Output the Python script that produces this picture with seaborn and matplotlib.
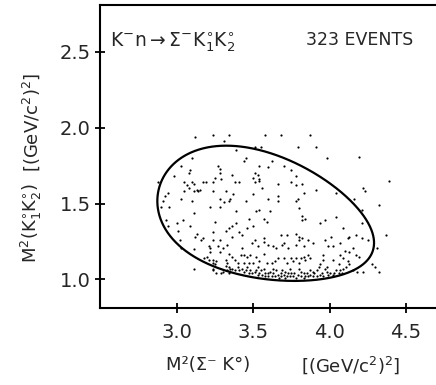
import numpy as np
import pandas as pd
import matplotlib
matplotlib.use("Agg")
import matplotlib.pyplot as plt
import seaborn as sns

# Masses (GeV/c^2) and K-n centre-of-mass energy (GeV) for the boundary curve
M_K0 = 0.4976
M_SIGMA = 1.1974
SQRT_S = 2.569

# Events: (M^2(Sigma- K0), M^2(K1 K2)) in (GeV/c^2)^2
events = [
    (3.12, 1.94), (3.24, 1.95), (3.31, 1.91), (3.34, 1.95), (3.10, 1.80), (3.03, 1.75),
    (3.09, 1.72), (3.08, 1.70), (3.27, 1.75), (3.28, 1.73), (3.28, 1.70), (2.98, 1.68),
    (3.25, 1.67), (3.29, 1.66), (3.24, 1.64), (3.05, 1.64), (3.10, 1.64), (3.17, 1.64),
    (3.19, 1.64), (3.07, 1.62), (3.11, 1.63), (3.08, 1.60), (3.13, 1.59), (3.15, 1.59),
    (3.14, 1.58), (3.11, 1.58), (3.05, 1.58), (3.24, 1.58), (2.88, 1.64), (2.94, 1.57),
    (2.92, 1.55), (3.10, 1.52), (3.03, 1.53), (2.91, 1.52), (3.28, 1.53), (3.31, 1.51),
    (3.22, 1.48), (2.95, 1.48), (2.90, 1.48),
    (3.58, 1.95), (3.68, 1.95), (3.55, 1.87), (3.51, 1.87), (3.39, 1.85), (3.79, 1.87),
    (3.45, 1.80), (3.44, 1.78), (3.54, 1.75), (3.62, 1.78), (3.60, 1.74), (3.70, 1.75),
    (3.75, 1.72), (3.51, 1.70), (3.53, 1.69), (3.36, 1.69), (3.50, 1.67), (3.54, 1.66),
    (3.38, 1.64), (3.41, 1.64), (3.54, 1.65), (3.51, 1.64), (3.66, 1.63), (3.75, 1.64),
    (3.78, 1.68), (3.78, 1.62), (3.82, 1.63), (3.56, 1.60), (3.32, 1.58), (3.37, 1.56),
    (3.50, 1.56), (3.60, 1.53), (3.66, 1.55), (3.66, 1.52), (3.35, 1.53), (3.34, 1.52),
    (3.45, 1.52), (3.79, 1.53), (3.78, 1.52), (3.83, 1.57), (3.54, 1.46),
    (3.87, 1.95), (3.91, 1.87), (3.98, 1.80), (4.19, 1.81), (3.91, 1.59), (4.04, 1.57),
    (4.22, 1.60), (4.23, 1.58), (4.39, 1.65), (4.16, 1.53), (4.32, 1.49), (4.21, 1.46),
    (3.28, 1.48), (3.11, 1.44), (3.25, 1.38), (2.93, 1.39), (3.04, 1.39), (3.09, 1.35),
    (3.00, 1.37), (2.94, 1.35), (3.34, 1.34), (3.32, 1.32), (3.01, 1.32), (3.13, 1.30),
    (3.24, 1.31), (3.12, 1.28), (3.17, 1.27), (3.16, 1.26), (3.24, 1.26), (3.28, 1.26),
    (3.02, 1.26), (3.21, 1.22), (3.22, 1.21), (3.27, 1.22), (3.30, 1.21), (3.33, 1.23),
    (3.03, 1.21), (3.11, 1.20), (3.22, 1.18), (3.28, 1.18), (3.34, 1.17), (3.20, 1.15),
    (3.18, 1.14), (3.24, 1.13), (3.26, 1.12), (3.21, 1.13), (3.32, 1.13), (3.33, 1.11),
    (3.25, 1.10), (3.24, 1.11), (3.24, 1.07), (3.24, 1.06), (3.26, 1.04), (3.29, 1.04),
    (3.30, 1.05), (3.33, 1.06), (3.35, 1.07), (3.11, 1.07), (3.34, 1.04), (3.32, 1.09),
    (3.39, 1.45), (3.52, 1.45), (3.61, 1.45), (3.80, 1.47), (3.82, 1.39), (3.47, 1.40),
    (3.57, 1.40), (3.39, 1.37), (3.59, 1.38), (3.50, 1.35), (3.46, 1.34), (3.36, 1.35),
    (3.41, 1.31), (3.43, 1.29), (3.36, 1.28), (3.68, 1.29), (3.72, 1.29), (3.78, 1.30),
    (3.80, 1.28), (3.51, 1.26), (3.57, 1.27), (3.49, 1.24), (3.57, 1.25), (3.60, 1.23),
    (3.53, 1.22), (3.63, 1.22), (3.65, 1.21), (3.70, 1.24), (3.69, 1.23), (3.73, 1.21),
    (3.78, 1.23), (3.80, 1.26), (3.83, 1.22), (3.43, 1.21), (3.36, 1.15), (3.42, 1.16),
    (3.44, 1.16), (3.46, 1.15), (3.48, 1.16), (3.52, 1.15), (3.57, 1.17), (3.66, 1.14),
    (3.70, 1.14), (3.75, 1.14), (3.78, 1.14), (3.81, 1.14), (3.83, 1.15), (3.38, 1.13),
    (3.40, 1.11), (3.44, 1.11), (3.47, 1.11), (3.50, 1.11), (3.54, 1.12), (3.59, 1.11),
    (3.62, 1.11), (3.64, 1.12), (3.72, 1.11), (3.76, 1.12), (3.80, 1.11),
    (3.82, 1.42), (3.84, 1.40), (3.97, 1.39), (4.04, 1.41), (3.94, 1.37), (4.09, 1.34),
    (4.21, 1.37), (4.37, 1.29), (3.82, 1.27), (3.86, 1.26), (3.89, 1.24), (3.97, 1.26),
    (4.01, 1.28), (4.02, 1.22), (3.99, 1.22), (4.07, 1.24), (4.12, 1.27), (4.13, 1.28),
    (4.17, 1.29), (4.21, 1.27), (4.25, 1.26), (4.31, 1.21), (4.10, 1.19), (4.13, 1.18),
    (4.15, 1.21), (4.17, 1.16), (4.19, 1.15), (4.07, 1.16), (4.09, 1.14), (3.96, 1.16),
    (3.86, 1.16), (3.84, 1.13), (3.87, 1.14), (3.96, 1.13), (4.02, 1.13), (4.12, 1.12),
    (4.13, 1.10), (4.11, 1.08), (4.06, 1.10), (4.09, 1.07), (4.15, 1.06), (4.28, 1.10),
    (4.30, 1.08), (4.32, 1.05), (4.22, 1.05), (4.18, 1.05), (3.94, 1.10), (3.98, 1.08),
    (3.34, 1.08), (3.36, 1.07), (3.38, 1.06), (3.40, 1.08), (3.41, 1.06), (3.43, 1.07),
    (3.44, 1.05), (3.45, 1.06), (3.47, 1.04), (3.48, 1.06), (3.49, 1.04), (3.51, 1.05),
    (3.52, 1.06), (3.53, 1.03), (3.54, 1.04), (3.55, 1.06), (3.56, 1.03), (3.58, 1.04),
    (3.58, 1.02), (3.60, 1.04), (3.61, 1.05), (3.62, 1.02), (3.63, 1.04), (3.64, 1.02),
    (3.65, 1.06), (3.66, 1.03), (3.68, 1.04), (3.68, 1.02), (3.70, 1.03), (3.71, 1.05),
    (3.72, 1.02), (3.73, 1.04), (3.74, 1.02), (3.75, 1.04), (3.76, 1.02), (3.77, 1.04),
    (3.78, 1.01), (3.79, 1.03), (3.81, 1.05), (3.81, 1.02), (3.83, 1.04), (3.84, 1.02),
    (3.85, 1.04), (3.86, 1.02), (3.87, 1.03), (3.89, 1.05), (3.89, 1.02), (3.90, 1.04),
    (3.92, 1.02), (3.92, 1.06), (3.94, 1.03), (3.95, 1.04), (3.96, 1.02), (3.98, 1.05),
    (3.99, 1.03), (4.00, 1.04), (4.02, 1.03), (4.03, 1.04), (4.04, 1.06), (4.06, 1.04),
    (4.07, 1.06), (4.08, 1.04),
    (3.46, 1.08), (3.53, 1.08), (3.57, 1.07), (3.63, 1.07), (3.69, 1.06), (3.74, 1.07),
    (3.80, 1.07), (3.87, 1.06), (3.93, 1.08), (3.67, 1.01), (3.71, 1.01), (3.83, 1.01),
    (3.60, 1.02), (3.97, 1.07),
]

x_ticks = [3.0, 3.5, 4.0, 4.5]
y_ticks = [1.0, 1.5, 2.0, 2.5]
x_tick_labels = ["3.0", "3.5", "4.0", "4.5"]
y_tick_labels = ["1.0", "1.5", "2.0", "2.5"]

reaction_label = r"K$^{-}$n$\rightarrow$Σ$^{-}$K$^{\circ}_{1}$K$^{\circ}_{2}$"
count_label = "323 EVENTS"
x_label_main = "M²(Σ⁻ K°)"
y_label_main = r"M$^{2}$(K$^{\circ}_{1}$K$^{\circ}_{2}$)"
unit_label = r"[(GeV/c$^{2}$)$^{2}$]"


def dalitz_boundary(n=500):
    """Kinematic limit of the Sigma- K0 K0 final state at fixed sqrt(s)."""
    s = SQRT_S ** 2
    lo = (2 * M_K0) ** 2
    hi = (SQRT_S - M_SIGMA) ** 2
    t = 0.5 * (1 - np.cos(np.linspace(0, np.pi, n)))
    m12sq = lo + (hi - lo) * t
    m12 = np.sqrt(m12sq)
    e2 = m12 / 2
    e3 = (s - m12sq - M_SIGMA ** 2) / (2 * m12)
    p2 = np.sqrt(np.clip(e2 ** 2 - M_K0 ** 2, 0, None))
    p3 = np.sqrt(np.clip(e3 ** 2 - M_SIGMA ** 2, 0, None))
    upper = (e2 + e3) ** 2 - (p2 - p3) ** 2
    lower = (e2 + e3) ** 2 - (p2 + p3) ** 2
    bx = np.concatenate([lower, upper[::-1], lower[:1]])
    by = np.concatenate([m12sq, m12sq[::-1], m12sq[:1]])
    return bx, by


sns.set_style("ticks")
plt.rcParams["font.family"] = ["DejaVu Sans"]
plt.rcParams["mathtext.fontset"] = "dejavusans"
plt.rcParams["mathtext.default"] = "regular"

df = pd.DataFrame(events, columns=["m2_sigma_k", "m2_kk"])
bx, by = dalitz_boundary()
boundary = pd.DataFrame({"m2_sigma_k": bx, "m2_kk": by})

W, H = 436, 385
fig = plt.figure(figsize=(W / 100, H / 100), dpi=100)
ax = fig.add_axes([100 / W, 1 - 308 / H, 336 / W, 303 / H])

sns.lineplot(data=boundary, x="m2_sigma_k", y="m2_kk", sort=False, estimator=None,
             color="black", linewidth=1.6, ax=ax)
sns.scatterplot(data=df, x="m2_sigma_k", y="m2_kk", s=2.5, color="black",
                linewidth=0, ax=ax)

ax.set_xlim(2.498, 4.696)
ax.set_ylim(0.812, 2.808)
ax.set_xticks(x_ticks, x_tick_labels)
ax.set_yticks(y_ticks, y_tick_labels)
ax.set_xlabel("")
ax.set_ylabel("")
ax.tick_params(direction="inout", length=7, width=1.3, labelsize=14, color="black")
ax.tick_params(axis="x", pad=7)
ax.tick_params(axis="y", pad=3)
ax.spines["right"].set_visible(False)
for side in ("left", "bottom", "top"):
    ax.spines[side].set_linewidth(1.5)
    ax.spines[side].set_color("black")

fig.text(208 / W, 1 - 365 / H, x_label_main, fontsize=13, ha="center", va="center")
fig.text(351 / W, 1 - 365 / H, unit_label, fontsize=13, ha="center", va="center")
fig.text(31 / W, 1 - 223 / H, y_label_main, fontsize=13, ha="center", va="center",
         rotation=90)
fig.text(31 / W, 1 - 122 / H, unit_label, fontsize=13, ha="center", va="center",
         rotation=90)
fig.text(110 / W, 1 - 42 / H, reaction_label, fontsize=13.5, ha="left", va="center")
fig.text(360 / W, 1 - 40 / H, count_label, fontsize=12.5, ha="center", va="center")

fig.savefig("out.png", dpi=100)
